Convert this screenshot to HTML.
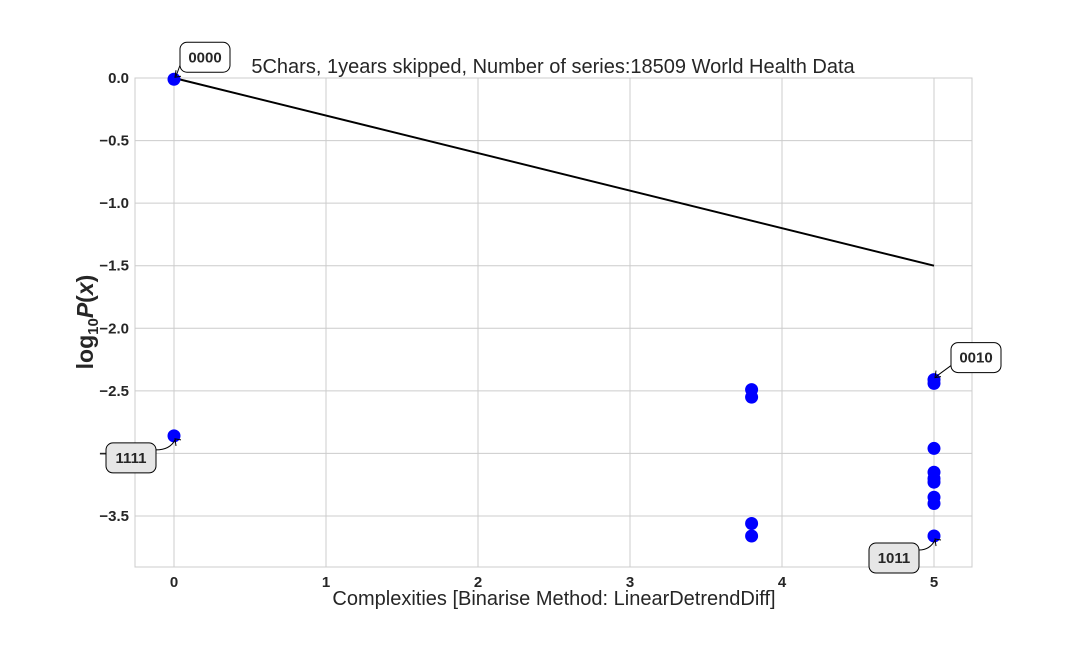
<!DOCTYPE html>
<html><head><meta charset="utf-8"><style>
body{margin:0;background:#fff;}
svg{display:block;font-family:"Liberation Sans",Arial,sans-serif;}
</style></head><body>
<svg id="chart" width="1080" height="648"></svg>
<script>
const xTicks=[0,1,2,3,4,5];
const yTicks=[0.0,-0.5,-1.0,-1.5,-2.0,-2.5,-3.0,-3.5];
const yTickLabels=["0.0","\u22120.5","\u22121.0","\u22121.5","\u22122.0","\u22122.5","\u22123.0","\u22123.5"];
const pointX=[0,0,3.8,3.8,3.8,3.8,5,5,5,5,5,5,5,5,5];
const pointY=[-0.01,-2.86,-2.49,-2.55,-3.56,-3.66,-2.41,-2.44,-2.96,-3.15,-3.2,-3.23,-3.35,-3.4,-3.66];
const lineX=[0,5];
const lineY=[0,-1.5];
const annLabels=["0000","1111","0010","1011"];
const annX=[0,0,5,5];
const annY=[-0.01,-2.86,-2.41,-3.66];

const L=135,R=972,T=78,B=567;
const sx=v=>174+v*152;
const sy=v=>78-v*125.14;
const NS="http://www.w3.org/2000/svg";
const svg=document.getElementById('chart');
function mk(tag,attrs,parent){const e=document.createElementNS(NS,tag);for(const k in attrs)e.setAttribute(k,attrs[k]);(parent||svg).appendChild(e);return e;}

const grid=mk('g',{});


xTicks.forEach((t,i)=>{
  mk('line',{x1:sx(t),x2:sx(t),y1:T,y2:B,stroke:'#cccccc','stroke-width':1},grid);
  const tx=mk('text',{x:sx(t),y:B+20,'text-anchor':'middle','font-size':15,'font-weight':'bold',fill:'#262626'});
  tx.textContent=t;
  
  
});
yTicks.forEach((t,i)=>{
  mk('line',{x1:L,x2:R,y1:sy(t),y2:sy(t),stroke:'#cccccc','stroke-width':1},grid);
  const tx=mk('text',{x:L-6,y:sy(t)+5,'text-anchor':'end','font-size':15,'font-weight':'bold',fill:'#262626'});
  tx.textContent=yTickLabels[i];
  
  
});
const frame=mk('rect',{x:L,y:T,width:R-L,height:B-T,fill:'none',stroke:'#cccccc','stroke-width':1});



const ln=mk('line',{x1:sx(lineX[0]),y1:sy(lineY[0]),x2:sx(lineX[1]),y2:sy(lineY[1]),stroke:'#000','stroke-width':2});



pointX.forEach((x,i)=>{
  const c=mk('circle',{cx:sx(x),cy:sy(pointY[i]),r:6.5,fill:'#0000ff'});
  
  
});

const annDx=[31,-43,42,-40];
const annDy=[-22,22,-22,22];
annLabels.forEach((lab,i)=>{
  const px=sx(annX[i]),py=sy(annY[i]);
  const bx=px+annDx[i],by=py+annDy[i];
  const g=mk('g',{});
  
  
  const fill=annDy[i]>0?'#e6e6e6':'#ffffff';
  const ex=bx-(annDx[i]>0?25:-25), ey=by+(annDy[i]<0?8:-8);
  if(annDy[i]<0) mk('path',{d:`M${ex},${ey} L${px+2},${py-3}`,stroke:'#000','stroke-width':1,fill:'none'},g);
  else mk('path',{d:`M${ex},${ey} Q${px-4},${ey} ${px+1},${py+4}`,stroke:'#000','stroke-width':1,fill:'none'},g);
  const ax=px+1, ay=py+(annDy[i]<0?-3:4);
  const dir=annDy[i]<0?-1:1;
  mk('path',{d:`M${ax+6},${ay} L${ax},${ay+dir*(-1)} L${ax+1},${ay+dir*6}`,stroke:'#000','stroke-width':1,fill:'none'},g);
  mk('rect',{x:bx-25,y:by-15,width:50,height:30,rx:7,fill:fill,stroke:'#000','stroke-width':1},g);
  const t=mk('text',{x:bx,y:by+5,'text-anchor':'middle','font-size':15,'font-weight':'bold',fill:'#262626'},g);
  t.textContent=lab;
});

const title=mk('text',{x:553,y:73,'text-anchor':'middle','font-size':20,fill:'#262626'});
title.textContent="5Chars, 1years skipped, Number of series:18509 World Health Data";


const xt=mk('text',{x:554,y:605,'text-anchor':'middle','font-size':20,fill:'#262626'});
xt.textContent="Complexities [Binarise Method: LinearDetrendDiff]";


const yt=mk('text',{x:0,y:0,'text-anchor':'middle','font-size':23,'font-weight':'bold',fill:'#262626',transform:'translate(93,322) rotate(-90)'});
yt.innerHTML='log<tspan font-size="15" dy="5">10</tspan><tspan dy="-5" font-style="italic">P</tspan>(<tspan font-style="italic">x</tspan>)';


</script>
</body></html>
